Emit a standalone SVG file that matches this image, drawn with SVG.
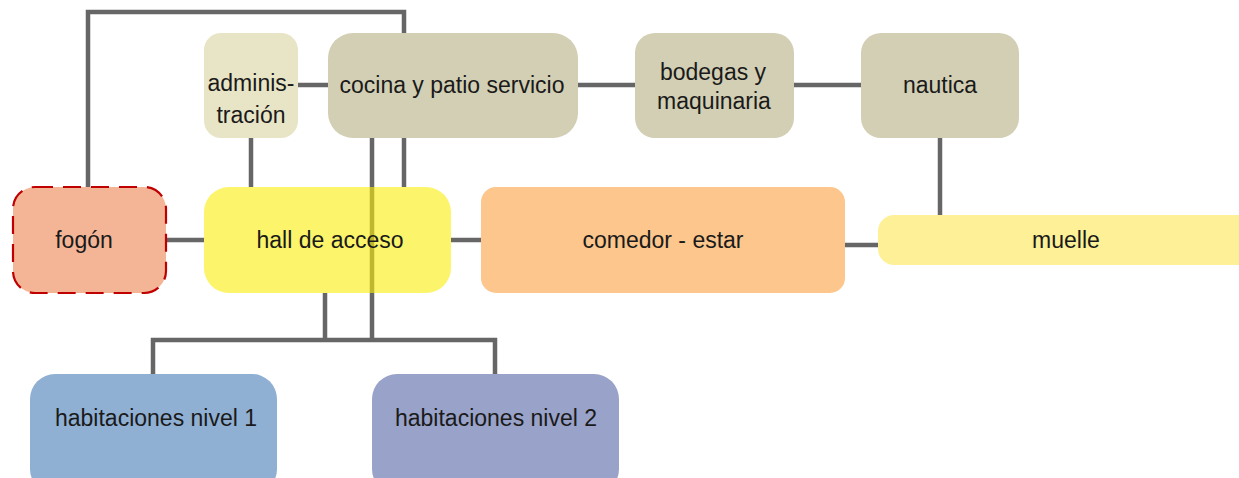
<svg xmlns="http://www.w3.org/2000/svg" width="1239" height="478" viewBox="0 0 1239 478">
<style>
.c{fill:none;stroke:#666666;stroke-width:4.5}
.t{font-family:"Liberation Sans",Arial,sans-serif;font-size:23px;fill:#1a1a1a;text-anchor:middle;dominant-baseline:central}
.tan{fill:#D2CFB4}
</style>
<rect width="1239" height="478" fill="#ffffff"/>
<g id="connectors">
<path class="c" d="M88,187 V12 H404 V33"/>
<path class="c" d="M298,85 H328"/>
<path class="c" d="M578,85 H635"/>
<path class="c" d="M794,85 H861"/>
<path class="c" d="M251,138 V187"/>
<path class="c" d="M404,138 V187"/>
<path class="c" d="M372,138 V340"/>
<path class="c" d="M166,240 H204"/>
<path class="c" d="M451,240 H481"/>
<path class="c" d="M845,245 H878"/>
<path class="c" d="M940,138 V215"/>
<path class="c" d="M325,293 V340 M153,374 V340 H495 V374"/>
</g>
<g id="administracion">
<rect x="204" y="33" width="94" height="105" rx="17" fill="#E8E4C6"/>
<text class="t" x="251" y="83">adminis-</text>
<text class="t" x="251" y="115">tración</text>
</g>
<g id="cocina">
<rect class="tan" x="328" y="33" width="250" height="105" rx="25"/>
<text class="t" x="452" y="85">cocina y patio servicio</text>
</g>
<g id="bodegas">
<rect class="tan" x="635" y="33" width="159" height="105" rx="20"/>
<text class="t" x="713" y="72">bodegas y</text>
<text class="t" x="714" y="101">maquinaria</text>
</g>
<g id="nautica">
<rect class="tan" x="861" y="33" width="158" height="105" rx="20"/>
<text class="t" x="940" y="85">nautica</text>
</g>
<g id="fogon">
<rect x="13" y="187" width="153" height="106" rx="22" fill="#F4B596" stroke="#C00000" stroke-width="2.2" stroke-dasharray="18,10"/>
<text class="t" x="84" y="240">fogón</text>
</g>
<g id="hall">
<rect x="204" y="187" width="247" height="106" rx="25" fill="#FAED07" fill-opacity="0.6"/>
<text class="t" x="330" y="240">hall de acceso</text>
</g>
<g id="comedor">
<rect x="481" y="187" width="364" height="106" rx="15" fill="#FCC68C"/>
<text class="t" x="663" y="240">comedor - estar</text>
</g>
<g id="muelle">
<rect x="878" y="215" width="380" height="50" rx="16" fill="#FDF096"/>
<text class="t" x="1066" y="240">muelle</text>
</g>
<g id="habitaciones1">
<rect x="30" y="374" width="247" height="120" rx="25" fill="#8FB0D3"/>
<text class="t" x="156" y="418">habitaciones nivel 1</text>
</g>
<g id="habitaciones2">
<rect x="372" y="374" width="247" height="120" rx="25" fill="#99A2C8"/>
<text class="t" x="496" y="418">habitaciones nivel 2</text>
</g>
</svg>
